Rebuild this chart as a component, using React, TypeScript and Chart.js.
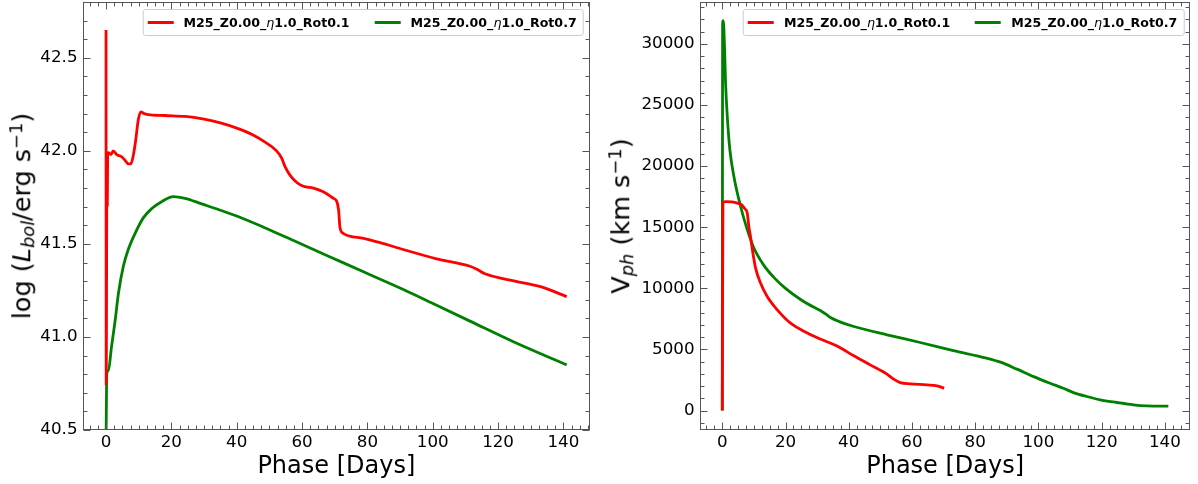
import React, { useEffect, useRef } from "react";
import { Chart, registerables } from "chart.js";

Chart.register(...registerables);

const FONT = "'DejaVu Sans', 'Liberation Sans', sans-serif";

// ---------------- data: left panel (log L_bol) ----------------
const lumRedDays = [0, 0.05, 0.3, 0.4, 0.5, 0.7, 1.5, 2.2, 3.3, 4.6, 5.8, 6.8, 7.6, 8.4, 9.1, 9.9, 10.7, 11.7, 12.9, 18.0, 24.2, 30.0, 35.0, 40.0, 45.0, 48.2, 52.2, 53.8, 54.8, 56.3, 58.4, 60.4, 63.5, 66.5, 69.6, 70.6, 71.2, 71.6, 72.6, 78.8, 83.9, 91.0, 101.2, 111.4, 113.5, 116.0, 125.2, 133.0, 141.0];
const lumRedVals = [42.65, 40.75, 41.99, 41.71, 41.98, 41.99, 41.98, 42.0, 41.98, 41.97, 41.95, 41.93, 41.93, 41.98, 42.06, 42.17, 42.21, 42.2, 42.195, 42.19, 42.185, 42.17, 42.15, 42.122, 42.085, 42.052, 42.0, 41.96, 41.915, 41.87, 41.83, 41.81, 41.8, 41.78, 41.745, 41.73, 41.68, 41.59, 41.557, 41.53, 41.507, 41.47, 41.42, 41.38, 41.364, 41.34, 41.3, 41.27, 41.217];

const lumGreenDays = [0, 0.2, 0.7, 1.7, 2.8, 3.8, 5.3, 6.8, 8.9, 11.4, 14.0, 17.0, 20.6, 24.2, 29.3, 34.4, 40.0, 48.2, 58.4, 68.6, 78.8, 91.0, 101.2, 111.4, 125.2, 141.0];
const lumGreenVals = [40.4, 40.8, 40.82, 40.95, 41.09, 41.235, 41.38, 41.47, 41.557, 41.64, 41.69, 41.727, 41.754, 41.745, 41.715, 41.685, 41.65, 41.59, 41.51, 41.43, 41.35, 41.255, 41.17, 41.085, 40.97, 40.85];

// ---------------- data: right panel (V_ph) ----------------
const velRedDays = [0, 0.2, 1.0, 3.0, 5.0, 6.3, 7.0, 7.9, 8.4, 8.95, 9.5, 10.5, 12.1, 14.2, 17.4, 21.6, 26.9, 31.0, 36.6, 41.6, 46.8, 52.1, 54.2, 56.3, 59.5, 64.7, 67.9, 70.2];
const velRedVals = [0, 17000, 17100, 17080, 16950, 16800, 16550, 16160, 15060, 14200, 13200, 11700, 10430, 9330, 8240, 7150, 6350, 5850, 5240, 4480, 3740, 2980, 2570, 2290, 2190, 2100, 2020, 1830];

const velGreenDays = [0, 0.1, 0.25, 0.45, 0.73, 1.04, 1.58, 2.4, 3.67, 5.8, 7.9, 10.0, 13.1, 16.3, 20.0, 25.0, 29.0, 31.0, 33.0, 34.2, 37.0, 41.6, 52.1, 62.6, 73.1, 83.6, 88.0, 93.2, 98.5, 103.7, 107.9, 111.1, 115.3, 119.5, 124.8, 130.0, 134.3, 141.1];
const velGreenVals = [0, 31500, 31900, 31500, 29530, 26800, 24070, 21340, 19160, 16700, 14800, 13300, 11900, 10900, 10000, 9050, 8450, 8190, 7850, 7620, 7280, 6880, 6200, 5570, 4910, 4290, 3960, 3390, 2780, 2240, 1830, 1470, 1150, 880, 660, 470, 385, 360];

// ---------------- ticks / labels ----------------
const phaseTicks = [0, 20, 40, 60, 80, 100, 120, 140];
const lumTicks = [40.5, 41.0, 41.5, 42.0, 42.5];
const velTicks = [0, 5000, 10000, 15000, 20000, 25000, 30000];
const seriesNames = ["M25_Z0.00_η1.0_Rot0.1", "M25_Z0.00_η1.0_Rot0.7"];
const seriesColors = ["#ff0000", "#008000"];

// ---------------- layout constants ----------------
const W = 1198;
const H = 484;
const PLOT_TOP = 2;
const PLOT_BOTTOM = 430;
const X_MIN = -7.05;
const X_MAX = 148.05;
const SPINE = "#555555";

function toPoints(xs: number[], ys: number[]) {
  return xs.map((x, i) => ({ x, y: ys[i] }));
}

function innerTicksPlugin(xMajor: number[], xMinorStep: number, yMajor: number[], yMinorStep: number) {
  return {
    id: "innerTicks",
    afterDatasetsDraw(chart: any) {
      const { ctx, chartArea: a, scales } = chart;
      const x = scales.x;
      const y = scales.y;
      const L = Math.round(a.left) + 0.5;
      const R = Math.round(a.right) - 0.5;
      const T = Math.round(a.top) + 0.5;
      const B = Math.round(a.bottom) - 0.5;
      ctx.save();
      ctx.strokeStyle = SPINE;
      ctx.lineWidth = 1;
      ctx.beginPath();
      const seg = (x1: number, y1: number, x2: number, y2: number) => {
        ctx.moveTo(x1, y1);
        ctx.lineTo(x2, y2);
      };
      const isMajor = (arr: number[], v: number) => arr.some((m) => Math.abs(m - v) < 1e-6);
      const xTick = (v: number, len: number) => {
        const p = Math.round(x.getPixelForValue(v)) + 0.5;
        seg(p, B, p, B - len);
        seg(p, T, p, T + len);
      };
      const yTick = (v: number, len: number) => {
        const p = Math.round(y.getPixelForValue(v)) + 0.5;
        seg(L, p, L + len, p);
        seg(R, p, R - len, p);
      };
      for (let k = Math.ceil(x.min / xMinorStep); k * xMinorStep <= x.max; k++) {
        const v = k * xMinorStep;
        if (!isMajor(xMajor, v)) xTick(v, 4);
      }
      for (let k = Math.ceil(y.min / yMinorStep - 1e-9); k * yMinorStep <= y.max + 1e-9; k++) {
        const v = +(k * yMinorStep).toFixed(6);
        if (!isMajor(yMajor, v)) yTick(v, 4);
      }
      xMajor.forEach((v) => xTick(v, 7));
      yMajor.forEach((v) => yTick(v, 7));
      ctx.stroke();
      ctx.strokeRect(L, T, R - L, B - T);
      ctx.restore();
    },
  };
}

type PanelProps = {
  left: number;
  width: number;
  plotLeft: number;
  plotRight: number;
  redDays: number[];
  redVals: number[];
  greenDays: number[];
  greenVals: number[];
  yMin: number;
  yMax: number;
  yTicks: number[];
  yMinorStep: number;
  yFormat: (v: number) => string;
};

function Panel(p: PanelProps) {
  const ref = useRef<HTMLCanvasElement | null>(null);
  useEffect(() => {
    const canvas = ref.current;
    if (!canvas) return;
    const tickFont = { family: FONT, size: 16.7 };
    const chart = new Chart(canvas, {
      type: "line",
      data: {
        datasets: [
          {
            label: seriesNames[0],
            data: toPoints(p.redDays, p.redVals),
            borderColor: seriesColors[0],
            backgroundColor: seriesColors[0],
            borderWidth: 2.8,
            pointRadius: 0,
            cubicInterpolationMode: "monotone",
            clip: 0,
          },
          {
            label: seriesNames[1],
            data: toPoints(p.greenDays, p.greenVals),
            borderColor: seriesColors[1],
            backgroundColor: seriesColors[1],
            borderWidth: 2.8,
            pointRadius: 0,
            cubicInterpolationMode: "monotone",
            clip: 0,
          },
        ],
      },
      options: {
        responsive: false,
        animation: false,
        devicePixelRatio: 1,
        events: [],
        layout: {
          padding: { left: 0, top: PLOT_TOP, right: p.width - p.plotRight, bottom: 0 },
        },
        plugins: { legend: { display: false }, tooltip: { enabled: false } },
        scales: {
          x: {
            type: "linear",
            min: X_MIN,
            max: X_MAX,
            grid: { display: false, drawTicks: false },
            border: { display: false },
            afterBuildTicks: (axis: any) => {
              axis.ticks = phaseTicks.map((v) => ({ value: v }));
            },
            afterFit: (axis: any) => {
              axis.height = H - PLOT_BOTTOM;
              axis.paddingLeft = 0;
              axis.paddingRight = 0;
            },
            ticks: {
              font: tickFont,
              color: "#000",
              padding: 3,
              maxRotation: 0,
              autoSkip: false,
              callback: (v: any) => String(v),
            },
            title: {
              display: true,
              text: "Phase [Days]",
              font: { family: FONT, size: 24 },
              color: "#000",
              padding: { top: 0, bottom: 3 },
            },
          },
          y: {
            type: "linear",
            min: p.yMin,
            max: p.yMax,
            grid: { display: false, drawTicks: false },
            border: { display: false },
            afterBuildTicks: (axis: any) => {
              axis.ticks = p.yTicks.map((v) => ({ value: v }));
            },
            afterFit: (axis: any) => {
              axis.width = p.plotLeft - p.left;
              axis.paddingTop = 0;
              axis.paddingBottom = 0;
            },
            ticks: {
              font: tickFont,
              color: "#000",
              padding: 5.5,
              autoSkip: false,
              callback: (v: any) => p.yFormat(Number(v)),
            },
          },
        },
      },
      plugins: [innerTicksPlugin(phaseTicks, 2.5, p.yTicks, p.yMinorStep)],
    } as any);
    return () => chart.destroy();
  }, []);
  return (
    <canvas
      ref={ref}
      width={p.width}
      height={H}
      style={{ position: "absolute", left: p.left, top: 0, width: p.width, height: H }}
    />
  );
}

function SeriesName({ name }: { name: string }) {
  const parts = name.split("η");
  return (
    <span>
      {parts[0]}
      <i style={{ fontWeight: "normal" }}>η</i>
      {parts[1]}
    </span>
  );
}

function Legend({ right }: { right: number }) {
  return (
    <div
      style={{
        position: "absolute",
        left: right - 6,
        top: PLOT_TOP + 7,
        transform: "translateX(-100%)",
        border: "1px solid #cccccc",
        borderRadius: 3,
        background: "rgba(255,255,255,0.8)",
        padding: "5px 6px 5px 4px",
        display: "flex",
        alignItems: "center",
        font: `bold 12.6px ${FONT}`,
        lineHeight: "15px",
        whiteSpace: "nowrap",
        color: "#000",
      }}
    >
      {seriesNames.map((n, i) => (
        <div key={n} style={{ display: "flex", alignItems: "center", marginLeft: i === 0 ? 0 : 25 }}>
          <span style={{ display: "inline-block", width: 26, height: 3, background: seriesColors[i], marginRight: 10 }} />
          <SeriesName name={n} />
        </div>
      ))}
    </div>
  );
}

function YLabel({ cx, children }: { cx: number; children: React.ReactNode }) {
  return (
    <div
      style={{
        position: "absolute",
        left: cx,
        top: (PLOT_TOP + PLOT_BOTTOM) / 2,
        transform: "translate(-50%, -50%) rotate(-90deg)",
        font: `25.5px ${FONT}`,
        lineHeight: "25.5px",
        whiteSpace: "nowrap",
        color: "#000",
      }}
    >
      {children}
    </div>
  );
}

const sub: React.CSSProperties = { fontSize: "0.7em", position: "relative", top: "0.25em" };
const sup: React.CSSProperties = { fontSize: "0.7em", position: "relative", top: "-0.45em" };

export default function App() {
  const leftPlotL = 83;
  const leftPlotR = 589.7;
  const rightPlotL = 700;
  const rightPlotR = 1190.3;
  return (
    <div style={{ position: "fixed", left: 0, top: 0, width: W, height: H, background: "#fff", overflow: "hidden" }}>
      <Panel
        left={0}
        width={600}
        plotLeft={leftPlotL}
        plotRight={leftPlotR}
        redDays={lumRedDays}
        redVals={lumRedVals}
        greenDays={lumGreenDays}
        greenVals={lumGreenVals}
        yMin={40.5}
        yMax={42.8}
        yTicks={lumTicks}
        yMinorStep={0.1}
        yFormat={(v) => v.toFixed(1)}
      />
      <Panel
        left={600}
        width={598}
        plotLeft={rightPlotL}
        plotRight={rightPlotR - 600}
        redDays={velRedDays}
        redVals={velRedVals}
        greenDays={velGreenDays}
        greenVals={velGreenVals}
        yMin={-1590}
        yMax={33430}
        yTicks={velTicks}
        yMinorStep={1000}
        yFormat={(v) => String(Math.round(v))}
      />
      <Legend right={leftPlotR} />
      <Legend right={rightPlotR} />
      <YLabel cx={22.5}>
        log (<i>L</i>
        <i style={sub}>bol</i>/erg s<span style={sup}>−1</span>)
      </YLabel>
      <YLabel cx={622}>
        V<i style={sub}>ph</i> (km s<span style={sup}>−1</span>)
      </YLabel>
    </div>
  );
}
